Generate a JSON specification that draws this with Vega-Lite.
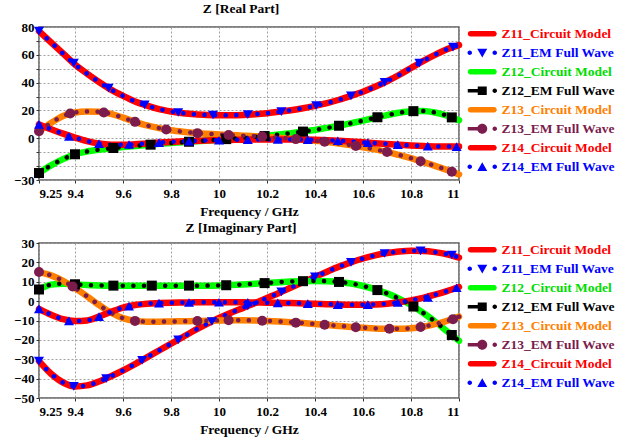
{
 "$schema": "https://vega.github.io/schema/vega-lite/v6.json",
 "background": "white",
 "padding": {"left": 12, "top": 0, "right": 4, "bottom": 2},
 "config": {
  "font": "Liberation Serif",
  "view": {"stroke": "#5a5a5a", "strokeWidth": 1.5},
  "axis": {"labelFont": "Liberation Serif", "labelFontWeight": "bold", "labelFontSize": 13, "labelColor": "#000", "titleFont": "Liberation Serif", "titleFontWeight": "bold", "titleFontSize": 13.5, "titleColor": "#000", "domain": false, "tickColor": "#333", "tickSize": 3, "gridColor": "#a0a0a0", "gridDash": [2, 2], "gridWidth": 1, "labelPadding": 2},
  "title": {"font": "Liberation Serif", "fontSize": 13.5, "fontWeight": "bold", "color": "#000", "offset": 3}
 },
 "datasets": {
  "re": [
   {"f":9.25,"Z11_Circuit Model":77,"Z11_EM Full Wave":77,"Z12_Circuit Model":-25,"Z12_EM Full Wave":-25,"Z13_Circuit Model":5,"Z13_EM Full Wave":5,"Z14_Circuit Model":10,"Z14_EM Full Wave":10},
   {"f":9.3,"Z11_Circuit Model":69,"Z11_EM Full Wave":69,"Z12_Circuit Model":-19.5,"Z12_EM Full Wave":-19.5,"Z13_Circuit Model":11,"Z13_EM Full Wave":11,"Z14_Circuit Model":6.5,"Z14_EM Full Wave":6.5},
   {"f":9.35,"Z11_Circuit Model":61,"Z11_EM Full Wave":61,"Z12_Circuit Model":-15,"Z12_EM Full Wave":-15,"Z13_Circuit Model":16,"Z13_EM Full Wave":16,"Z14_Circuit Model":3.3,"Z14_EM Full Wave":3.3},
   {"f":9.4,"Z11_Circuit Model":53,"Z11_EM Full Wave":53,"Z12_Circuit Model":-11.5,"Z12_EM Full Wave":-11.5,"Z13_Circuit Model":18.5,"Z13_EM Full Wave":18.5,"Z14_Circuit Model":0.5,"Z14_EM Full Wave":0.5},
   {"f":9.45,"Z11_Circuit Model":46.5,"Z11_EM Full Wave":46.5,"Z12_Circuit Model":-9.5,"Z12_EM Full Wave":-9.5,"Z13_Circuit Model":19.3,"Z13_EM Full Wave":19.3,"Z14_Circuit Model":-2,"Z14_EM Full Wave":-2},
   {"f":9.5,"Z11_Circuit Model":40.5,"Z11_EM Full Wave":40.5,"Z12_Circuit Model":-8.2,"Z12_EM Full Wave":-8.2,"Z13_Circuit Model":19,"Z13_EM Full Wave":19,"Z14_Circuit Model":-3.8,"Z14_EM Full Wave":-3.8},
   {"f":9.55,"Z11_Circuit Model":35,"Z11_EM Full Wave":35,"Z12_Circuit Model":-7.2,"Z12_EM Full Wave":-7.2,"Z13_Circuit Model":17.5,"Z13_EM Full Wave":17.5,"Z14_Circuit Model":-4.6,"Z14_EM Full Wave":-4.6},
   {"f":9.6,"Z11_Circuit Model":30.5,"Z11_EM Full Wave":30.5,"Z12_Circuit Model":-6.3,"Z12_EM Full Wave":-6.3,"Z13_Circuit Model":14.8,"Z13_EM Full Wave":14.8,"Z14_Circuit Model":-4.7,"Z14_EM Full Wave":-4.7},
   {"f":9.65,"Z11_Circuit Model":26.5,"Z11_EM Full Wave":26.5,"Z12_Circuit Model":-5.5,"Z12_EM Full Wave":-5.5,"Z13_Circuit Model":11.8,"Z13_EM Full Wave":11.8,"Z14_Circuit Model":-4.3,"Z14_EM Full Wave":-4.3},
   {"f":9.7,"Z11_Circuit Model":23.5,"Z11_EM Full Wave":23.5,"Z12_Circuit Model":-4.8,"Z12_EM Full Wave":-4.8,"Z13_Circuit Model":9.2,"Z13_EM Full Wave":9.2,"Z14_Circuit Model":-3.7,"Z14_EM Full Wave":-3.7},
   {"f":9.75,"Z11_Circuit Model":21,"Z11_EM Full Wave":21,"Z12_Circuit Model":-4,"Z12_EM Full Wave":-4,"Z13_Circuit Model":7.3,"Z13_EM Full Wave":7.3,"Z14_Circuit Model":-3.1,"Z14_EM Full Wave":-3.1},
   {"f":9.8,"Z11_Circuit Model":19.3,"Z11_EM Full Wave":19.3,"Z12_Circuit Model":-3.4,"Z12_EM Full Wave":-3.4,"Z13_Circuit Model":5.8,"Z13_EM Full Wave":5.8,"Z14_Circuit Model":-2.6,"Z14_EM Full Wave":-2.6},
   {"f":9.85,"Z11_Circuit Model":18,"Z11_EM Full Wave":18,"Z12_Circuit Model":-2.8,"Z12_EM Full Wave":-2.8,"Z13_Circuit Model":4.7,"Z13_EM Full Wave":4.7,"Z14_Circuit Model":-2.2,"Z14_EM Full Wave":-2.2},
   {"f":9.9,"Z11_Circuit Model":17.2,"Z11_EM Full Wave":17.2,"Z12_Circuit Model":-2.2,"Z12_EM Full Wave":-2.2,"Z13_Circuit Model":3.8,"Z13_EM Full Wave":3.8,"Z14_Circuit Model":-1.9,"Z14_EM Full Wave":-1.9},
   {"f":9.95,"Z11_Circuit Model":16.8,"Z11_EM Full Wave":16.8,"Z12_Circuit Model":-1.6,"Z12_EM Full Wave":-1.6,"Z13_Circuit Model":3.2,"Z13_EM Full Wave":3.2,"Z14_Circuit Model":-1.6,"Z14_EM Full Wave":-1.6},
   {"f":10,"Z11_Circuit Model":16.6,"Z11_EM Full Wave":16.6,"Z12_Circuit Model":-1,"Z12_EM Full Wave":-1,"Z13_Circuit Model":2.7,"Z13_EM Full Wave":2.7,"Z14_Circuit Model":-1.4,"Z14_EM Full Wave":-1.4},
   {"f":10.05,"Z11_Circuit Model":16.6,"Z11_EM Full Wave":16.6,"Z12_Circuit Model":-0.4,"Z12_EM Full Wave":-0.4,"Z13_Circuit Model":2.3,"Z13_EM Full Wave":2.3,"Z14_Circuit Model":-1.2,"Z14_EM Full Wave":-1.2},
   {"f":10.1,"Z11_Circuit Model":16.8,"Z11_EM Full Wave":16.8,"Z12_Circuit Model":0.3,"Z12_EM Full Wave":0.3,"Z13_Circuit Model":1.9,"Z13_EM Full Wave":1.9,"Z14_Circuit Model":-1,"Z14_EM Full Wave":-1},
   {"f":10.15,"Z11_Circuit Model":17.3,"Z11_EM Full Wave":17.3,"Z12_Circuit Model":1,"Z12_EM Full Wave":1,"Z13_Circuit Model":1.5,"Z13_EM Full Wave":1.5,"Z14_Circuit Model":-0.9,"Z14_EM Full Wave":-0.9},
   {"f":10.2,"Z11_Circuit Model":18,"Z11_EM Full Wave":18,"Z12_Circuit Model":1.8,"Z12_EM Full Wave":1.8,"Z13_Circuit Model":1,"Z13_EM Full Wave":1,"Z14_Circuit Model":-0.8,"Z14_EM Full Wave":-0.8},
   {"f":10.25,"Z11_Circuit Model":19,"Z11_EM Full Wave":19,"Z12_Circuit Model":2.7,"Z12_EM Full Wave":2.7,"Z13_Circuit Model":0.4,"Z13_EM Full Wave":0.4,"Z14_Circuit Model":-0.8,"Z14_EM Full Wave":-0.8},
   {"f":10.3,"Z11_Circuit Model":20.2,"Z11_EM Full Wave":20.2,"Z12_Circuit Model":3.7,"Z12_EM Full Wave":3.7,"Z13_Circuit Model":-0.3,"Z13_EM Full Wave":-0.3,"Z14_Circuit Model":-0.8,"Z14_EM Full Wave":-0.8},
   {"f":10.35,"Z11_Circuit Model":21.6,"Z11_EM Full Wave":21.6,"Z12_Circuit Model":4.8,"Z12_EM Full Wave":4.8,"Z13_Circuit Model":-1,"Z13_EM Full Wave":-1,"Z14_Circuit Model":-0.9,"Z14_EM Full Wave":-0.9},
   {"f":10.4,"Z11_Circuit Model":23.3,"Z11_EM Full Wave":23.3,"Z12_Circuit Model":6,"Z12_EM Full Wave":6,"Z13_Circuit Model":-1.8,"Z13_EM Full Wave":-1.8,"Z14_Circuit Model":-1.1,"Z14_EM Full Wave":-1.1},
   {"f":10.45,"Z11_Circuit Model":25.3,"Z11_EM Full Wave":25.3,"Z12_Circuit Model":7.5,"Z12_EM Full Wave":7.5,"Z13_Circuit Model":-2.7,"Z13_EM Full Wave":-2.7,"Z14_Circuit Model":-1.4,"Z14_EM Full Wave":-1.4},
   {"f":10.5,"Z11_Circuit Model":27.7,"Z11_EM Full Wave":27.7,"Z12_Circuit Model":9,"Z12_EM Full Wave":9,"Z13_Circuit Model":-3.8,"Z13_EM Full Wave":-3.8,"Z14_Circuit Model":-1.8,"Z14_EM Full Wave":-1.8},
   {"f":10.55,"Z11_Circuit Model":30.5,"Z11_EM Full Wave":30.5,"Z12_Circuit Model":10.8,"Z12_EM Full Wave":10.8,"Z13_Circuit Model":-5,"Z13_EM Full Wave":-5,"Z14_Circuit Model":-2.3,"Z14_EM Full Wave":-2.3},
   {"f":10.6,"Z11_Circuit Model":33.5,"Z11_EM Full Wave":33.5,"Z12_Circuit Model":12.7,"Z12_EM Full Wave":12.7,"Z13_Circuit Model":-6.4,"Z13_EM Full Wave":-6.4,"Z14_Circuit Model":-2.9,"Z14_EM Full Wave":-2.9},
   {"f":10.65,"Z11_Circuit Model":37,"Z11_EM Full Wave":37,"Z12_Circuit Model":14.7,"Z12_EM Full Wave":14.7,"Z13_Circuit Model":-8,"Z13_EM Full Wave":-8,"Z14_Circuit Model":-3.5,"Z14_EM Full Wave":-3.5},
   {"f":10.7,"Z11_Circuit Model":41,"Z11_EM Full Wave":41,"Z12_Circuit Model":16.6,"Z12_EM Full Wave":16.6,"Z13_Circuit Model":-9.8,"Z13_EM Full Wave":-9.8,"Z14_Circuit Model":-4.1,"Z14_EM Full Wave":-4.1},
   {"f":10.75,"Z11_Circuit Model":45.5,"Z11_EM Full Wave":45.5,"Z12_Circuit Model":18.3,"Z12_EM Full Wave":18.3,"Z13_Circuit Model":-12,"Z13_EM Full Wave":-12,"Z14_Circuit Model":-4.7,"Z14_EM Full Wave":-4.7},
   {"f":10.8,"Z11_Circuit Model":50.5,"Z11_EM Full Wave":50.5,"Z12_Circuit Model":19.4,"Z12_EM Full Wave":19.4,"Z13_Circuit Model":-14.3,"Z13_EM Full Wave":-14.3,"Z14_Circuit Model":-5.2,"Z14_EM Full Wave":-5.2},
   {"f":10.85,"Z11_Circuit Model":55.5,"Z11_EM Full Wave":55.5,"Z12_Circuit Model":19.6,"Z12_EM Full Wave":19.6,"Z13_Circuit Model":-17,"Z13_EM Full Wave":-17,"Z14_Circuit Model":-5.6,"Z14_EM Full Wave":-5.6},
   {"f":10.9,"Z11_Circuit Model":60,"Z11_EM Full Wave":60,"Z12_Circuit Model":18.5,"Z12_EM Full Wave":18.5,"Z13_Circuit Model":-19.8,"Z13_EM Full Wave":-19.8,"Z14_Circuit Model":-5.9,"Z14_EM Full Wave":-5.9},
   {"f":10.95,"Z11_Circuit Model":64,"Z11_EM Full Wave":64,"Z12_Circuit Model":16.3,"Z12_EM Full Wave":16.3,"Z13_Circuit Model":-22.8,"Z13_EM Full Wave":-22.8,"Z14_Circuit Model":-6,"Z14_EM Full Wave":-6},
   {"f":11,"Z11_Circuit Model":67,"Z11_EM Full Wave":67,"Z12_Circuit Model":13,"Z12_EM Full Wave":13,"Z13_Circuit Model":-26,"Z13_EM Full Wave":-26,"Z14_Circuit Model":-6,"Z14_EM Full Wave":-6}
  ],
  "im": [
   {"f":9.25,"Z11_Circuit Model":-31,"Z11_EM Full Wave":-31,"Z12_Circuit Model":6,"Z12_EM Full Wave":6,"Z13_Circuit Model":15,"Z13_EM Full Wave":15,"Z14_Circuit Model":-4,"Z14_EM Full Wave":-4},
   {"f":9.3,"Z11_Circuit Model":-37.5,"Z11_EM Full Wave":-37.5,"Z12_Circuit Model":8.5,"Z12_EM Full Wave":8.5,"Z13_Circuit Model":13.3,"Z13_EM Full Wave":13.3,"Z14_Circuit Model":-7,"Z14_EM Full Wave":-7},
   {"f":9.35,"Z11_Circuit Model":-42,"Z11_EM Full Wave":-42,"Z12_Circuit Model":9,"Z12_EM Full Wave":9,"Z13_Circuit Model":10.5,"Z13_EM Full Wave":10.5,"Z14_Circuit Model":-9.3,"Z14_EM Full Wave":-9.3},
   {"f":9.4,"Z11_Circuit Model":-44,"Z11_EM Full Wave":-44,"Z12_Circuit Model":8.7,"Z12_EM Full Wave":8.7,"Z13_Circuit Model":6.8,"Z13_EM Full Wave":6.8,"Z14_Circuit Model":-10.3,"Z14_EM Full Wave":-10.3},
   {"f":9.45,"Z11_Circuit Model":-43.5,"Z11_EM Full Wave":-43.5,"Z12_Circuit Model":8.3,"Z12_EM Full Wave":8.3,"Z13_Circuit Model":2.5,"Z13_EM Full Wave":2.5,"Z14_Circuit Model":-10,"Z14_EM Full Wave":-10},
   {"f":9.5,"Z11_Circuit Model":-41.5,"Z11_EM Full Wave":-41.5,"Z12_Circuit Model":8.1,"Z12_EM Full Wave":8.1,"Z13_Circuit Model":-2,"Z13_EM Full Wave":-2,"Z14_Circuit Model":-8,"Z14_EM Full Wave":-8},
   {"f":9.55,"Z11_Circuit Model":-38.8,"Z11_EM Full Wave":-38.8,"Z12_Circuit Model":8,"Z12_EM Full Wave":8,"Z13_Circuit Model":-6,"Z13_EM Full Wave":-6,"Z14_Circuit Model":-5.5,"Z14_EM Full Wave":-5.5},
   {"f":9.6,"Z11_Circuit Model":-35.8,"Z11_EM Full Wave":-35.8,"Z12_Circuit Model":8,"Z12_EM Full Wave":8,"Z13_Circuit Model":-8.8,"Z13_EM Full Wave":-8.8,"Z14_Circuit Model":-3.3,"Z14_EM Full Wave":-3.3},
   {"f":9.65,"Z11_Circuit Model":-32.5,"Z11_EM Full Wave":-32.5,"Z12_Circuit Model":8,"Z12_EM Full Wave":8,"Z13_Circuit Model":-10.2,"Z13_EM Full Wave":-10.2,"Z14_Circuit Model":-2,"Z14_EM Full Wave":-2},
   {"f":9.7,"Z11_Circuit Model":-29,"Z11_EM Full Wave":-29,"Z12_Circuit Model":8,"Z12_EM Full Wave":8,"Z13_Circuit Model":-10.6,"Z13_EM Full Wave":-10.6,"Z14_Circuit Model":-1.3,"Z14_EM Full Wave":-1.3},
   {"f":9.75,"Z11_Circuit Model":-25.5,"Z11_EM Full Wave":-25.5,"Z12_Circuit Model":8,"Z12_EM Full Wave":8,"Z13_Circuit Model":-10.6,"Z13_EM Full Wave":-10.6,"Z14_Circuit Model":-1,"Z14_EM Full Wave":-1},
   {"f":9.8,"Z11_Circuit Model":-22,"Z11_EM Full Wave":-22,"Z12_Circuit Model":8,"Z12_EM Full Wave":8,"Z13_Circuit Model":-10.5,"Z13_EM Full Wave":-10.5,"Z14_Circuit Model":-0.8,"Z14_EM Full Wave":-0.8},
   {"f":9.85,"Z11_Circuit Model":-18.5,"Z11_EM Full Wave":-18.5,"Z12_Circuit Model":8,"Z12_EM Full Wave":8,"Z13_Circuit Model":-10.4,"Z13_EM Full Wave":-10.4,"Z14_Circuit Model":-0.7,"Z14_EM Full Wave":-0.7},
   {"f":9.9,"Z11_Circuit Model":-15,"Z11_EM Full Wave":-15,"Z12_Circuit Model":8,"Z12_EM Full Wave":8,"Z13_Circuit Model":-10.3,"Z13_EM Full Wave":-10.3,"Z14_Circuit Model":-0.6,"Z14_EM Full Wave":-0.6},
   {"f":9.95,"Z11_Circuit Model":-11.7,"Z11_EM Full Wave":-11.7,"Z12_Circuit Model":8,"Z12_EM Full Wave":8,"Z13_Circuit Model":-10.1,"Z13_EM Full Wave":-10.1,"Z14_Circuit Model":-0.6,"Z14_EM Full Wave":-0.6},
   {"f":10,"Z11_Circuit Model":-8.7,"Z11_EM Full Wave":-8.7,"Z12_Circuit Model":8.1,"Z12_EM Full Wave":8.1,"Z13_Circuit Model":-10,"Z13_EM Full Wave":-10,"Z14_Circuit Model":-0.6,"Z14_EM Full Wave":-0.6},
   {"f":10.05,"Z11_Circuit Model":-6,"Z11_EM Full Wave":-6,"Z12_Circuit Model":8.3,"Z12_EM Full Wave":8.3,"Z13_Circuit Model":-9.9,"Z13_EM Full Wave":-9.9,"Z14_Circuit Model":-0.6,"Z14_EM Full Wave":-0.6},
   {"f":10.1,"Z11_Circuit Model":-3.5,"Z11_EM Full Wave":-3.5,"Z12_Circuit Model":8.6,"Z12_EM Full Wave":8.6,"Z13_Circuit Model":-9.9,"Z13_EM Full Wave":-9.9,"Z14_Circuit Model":-0.6,"Z14_EM Full Wave":-0.6},
   {"f":10.15,"Z11_Circuit Model":-1,"Z11_EM Full Wave":-1,"Z12_Circuit Model":9,"Z12_EM Full Wave":9,"Z13_Circuit Model":-10,"Z13_EM Full Wave":-10,"Z14_Circuit Model":-0.7,"Z14_EM Full Wave":-0.7},
   {"f":10.2,"Z11_Circuit Model":1.6,"Z11_EM Full Wave":1.6,"Z12_Circuit Model":9.4,"Z12_EM Full Wave":9.4,"Z13_Circuit Model":-10.2,"Z13_EM Full Wave":-10.2,"Z14_Circuit Model":-0.8,"Z14_EM Full Wave":-0.8},
   {"f":10.25,"Z11_Circuit Model":4.2,"Z11_EM Full Wave":4.2,"Z12_Circuit Model":9.8,"Z12_EM Full Wave":9.8,"Z13_Circuit Model":-10.5,"Z13_EM Full Wave":-10.5,"Z14_Circuit Model":-0.9,"Z14_EM Full Wave":-0.9},
   {"f":10.3,"Z11_Circuit Model":7,"Z11_EM Full Wave":7,"Z12_Circuit Model":10.1,"Z12_EM Full Wave":10.1,"Z13_Circuit Model":-10.9,"Z13_EM Full Wave":-10.9,"Z14_Circuit Model":-1,"Z14_EM Full Wave":-1},
   {"f":10.35,"Z11_Circuit Model":9.8,"Z11_EM Full Wave":9.8,"Z12_Circuit Model":10.3,"Z12_EM Full Wave":10.3,"Z13_Circuit Model":-11.3,"Z13_EM Full Wave":-11.3,"Z14_Circuit Model":-1.2,"Z14_EM Full Wave":-1.2},
   {"f":10.4,"Z11_Circuit Model":12.5,"Z11_EM Full Wave":12.5,"Z12_Circuit Model":10.4,"Z12_EM Full Wave":10.4,"Z13_Circuit Model":-11.8,"Z13_EM Full Wave":-11.8,"Z14_Circuit Model":-1.4,"Z14_EM Full Wave":-1.4},
   {"f":10.45,"Z11_Circuit Model":15.2,"Z11_EM Full Wave":15.2,"Z12_Circuit Model":10.3,"Z12_EM Full Wave":10.3,"Z13_Circuit Model":-12.3,"Z13_EM Full Wave":-12.3,"Z14_Circuit Model":-1.6,"Z14_EM Full Wave":-1.6},
   {"f":10.5,"Z11_Circuit Model":17.8,"Z11_EM Full Wave":17.8,"Z12_Circuit Model":9.9,"Z12_EM Full Wave":9.9,"Z13_Circuit Model":-12.8,"Z13_EM Full Wave":-12.8,"Z14_Circuit Model":-1.8,"Z14_EM Full Wave":-1.8},
   {"f":10.55,"Z11_Circuit Model":20,"Z11_EM Full Wave":20,"Z12_Circuit Model":9.1,"Z12_EM Full Wave":9.1,"Z13_Circuit Model":-13.3,"Z13_EM Full Wave":-13.3,"Z14_Circuit Model":-1.9,"Z14_EM Full Wave":-1.9},
   {"f":10.6,"Z11_Circuit Model":22,"Z11_EM Full Wave":22,"Z12_Circuit Model":7.8,"Z12_EM Full Wave":7.8,"Z13_Circuit Model":-13.7,"Z13_EM Full Wave":-13.7,"Z14_Circuit Model":-1.9,"Z14_EM Full Wave":-1.9},
   {"f":10.65,"Z11_Circuit Model":23.6,"Z11_EM Full Wave":23.6,"Z12_Circuit Model":6.1,"Z12_EM Full Wave":6.1,"Z13_Circuit Model":-14.1,"Z13_EM Full Wave":-14.1,"Z14_Circuit Model":-1.7,"Z14_EM Full Wave":-1.7},
   {"f":10.7,"Z11_Circuit Model":24.8,"Z11_EM Full Wave":24.8,"Z12_Circuit Model":4,"Z12_EM Full Wave":4,"Z13_Circuit Model":-14.3,"Z13_EM Full Wave":-14.3,"Z14_Circuit Model":-1.3,"Z14_EM Full Wave":-1.3},
   {"f":10.75,"Z11_Circuit Model":25.6,"Z11_EM Full Wave":25.6,"Z12_Circuit Model":1.3,"Z12_EM Full Wave":1.3,"Z13_Circuit Model":-14.3,"Z13_EM Full Wave":-14.3,"Z14_Circuit Model":-0.6,"Z14_EM Full Wave":-0.6},
   {"f":10.8,"Z11_Circuit Model":26,"Z11_EM Full Wave":26,"Z12_Circuit Model":-2,"Z12_EM Full Wave":-2,"Z13_Circuit Model":-14,"Z13_EM Full Wave":-14,"Z14_Circuit Model":0.4,"Z14_EM Full Wave":0.4},
   {"f":10.85,"Z11_Circuit Model":25.9,"Z11_EM Full Wave":25.9,"Z12_Circuit Model":-6,"Z12_EM Full Wave":-6,"Z13_Circuit Model":-13.2,"Z13_EM Full Wave":-13.2,"Z14_Circuit Model":1.7,"Z14_EM Full Wave":1.7},
   {"f":10.9,"Z11_Circuit Model":25.3,"Z11_EM Full Wave":25.3,"Z12_Circuit Model":-10.5,"Z12_EM Full Wave":-10.5,"Z13_Circuit Model":-11.9,"Z13_EM Full Wave":-11.9,"Z14_Circuit Model":3.3,"Z14_EM Full Wave":3.3},
   {"f":10.95,"Z11_Circuit Model":24.2,"Z11_EM Full Wave":24.2,"Z12_Circuit Model":-15.5,"Z12_EM Full Wave":-15.5,"Z13_Circuit Model":-10.2,"Z13_EM Full Wave":-10.2,"Z14_Circuit Model":5.2,"Z14_EM Full Wave":5.2},
   {"f":11,"Z11_Circuit Model":22.5,"Z11_EM Full Wave":22.5,"Z12_Circuit Model":-20.5,"Z12_EM Full Wave":-20.5,"Z13_Circuit Model":-8,"Z13_EM Full Wave":-8,"Z14_Circuit Model":7.3,"Z14_EM Full Wave":7.3}
  ],
  "reM": [
   {"s":"Z11_EM Full Wave","f":9.25,"v":77},{"s":"Z11_EM Full Wave","f":9.395,"v":54},{"s":"Z11_EM Full Wave","f":9.54,"v":36},{"s":"Z11_EM Full Wave","f":9.69,"v":24},{"s":"Z11_EM Full Wave","f":9.83,"v":18.5},{"s":"Z11_EM Full Wave","f":9.975,"v":16.7},{"s":"Z11_EM Full Wave","f":10.12,"v":17},{"s":"Z11_EM Full Wave","f":10.26,"v":19.2},{"s":"Z11_EM Full Wave","f":10.405,"v":23.5},{"s":"Z11_EM Full Wave","f":10.55,"v":30.5},{"s":"Z11_EM Full Wave","f":10.69,"v":40.2},{"s":"Z11_EM Full Wave","f":10.835,"v":54},{"s":"Z11_EM Full Wave","f":10.975,"v":65.5},
   {"s":"Z12_EM Full Wave","f":9.25,"v":-25},{"s":"Z12_EM Full Wave","f":9.4,"v":-11.5},{"s":"Z12_EM Full Wave","f":9.56,"v":-7},{"s":"Z12_EM Full Wave","f":9.715,"v":-4.6},{"s":"Z12_EM Full Wave","f":9.875,"v":-2.5},{"s":"Z12_EM Full Wave","f":10.03,"v":-0.6},{"s":"Z12_EM Full Wave","f":10.19,"v":1.6},{"s":"Z12_EM Full Wave","f":10.35,"v":4.8},{"s":"Z12_EM Full Wave","f":10.5,"v":9},{"s":"Z12_EM Full Wave","f":10.66,"v":15.1},{"s":"Z12_EM Full Wave","f":10.81,"v":19.5},{"s":"Z12_EM Full Wave","f":10.97,"v":15},
   {"s":"Z13_EM Full Wave","f":9.25,"v":5},{"s":"Z13_EM Full Wave","f":9.38,"v":17.8},{"s":"Z13_EM Full Wave","f":9.52,"v":18.5},{"s":"Z13_EM Full Wave","f":9.65,"v":11.8},{"s":"Z13_EM Full Wave","f":9.78,"v":6.3},{"s":"Z13_EM Full Wave","f":9.91,"v":3.7},{"s":"Z13_EM Full Wave","f":10.04,"v":2.4},{"s":"Z13_EM Full Wave","f":10.18,"v":1.2},{"s":"Z13_EM Full Wave","f":10.32,"v":-0.6},{"s":"Z13_EM Full Wave","f":10.44,"v":-2.5},{"s":"Z13_EM Full Wave","f":10.57,"v":-5.5},{"s":"Z13_EM Full Wave","f":10.7,"v":-9.8},{"s":"Z13_EM Full Wave","f":10.84,"v":-16.5},{"s":"Z13_EM Full Wave","f":10.97,"v":-24},
   {"s":"Z14_EM Full Wave","f":9.25,"v":10},{"s":"Z14_EM Full Wave","f":9.375,"v":1.3},{"s":"Z14_EM Full Wave","f":9.5,"v":-3.8},{"s":"Z14_EM Full Wave","f":9.625,"v":-4.5},{"s":"Z14_EM Full Wave","f":9.75,"v":-3.1},{"s":"Z14_EM Full Wave","f":9.875,"v":-2},{"s":"Z14_EM Full Wave","f":10,"v":-1.4},{"s":"Z14_EM Full Wave","f":10.12,"v":-1},{"s":"Z14_EM Full Wave","f":10.245,"v":-0.8},{"s":"Z14_EM Full Wave","f":10.37,"v":-1},{"s":"Z14_EM Full Wave","f":10.495,"v":-1.8},{"s":"Z14_EM Full Wave","f":10.62,"v":-3.1},{"s":"Z14_EM Full Wave","f":10.745,"v":-4.6},{"s":"Z14_EM Full Wave","f":10.87,"v":-5.7},{"s":"Z14_EM Full Wave","f":10.99,"v":-6}
  ],
  "imM": [
   {"s":"Z11_EM Full Wave","f":9.25,"v":-31},{"s":"Z11_EM Full Wave","f":9.395,"v":-44},{"s":"Z11_EM Full Wave","f":9.53,"v":-40},{"s":"Z11_EM Full Wave","f":9.68,"v":-30.5},{"s":"Z11_EM Full Wave","f":9.83,"v":-20},{"s":"Z11_EM Full Wave","f":9.97,"v":-10.5},{"s":"Z11_EM Full Wave","f":10.12,"v":-2.5},{"s":"Z11_EM Full Wave","f":10.26,"v":4.8},{"s":"Z11_EM Full Wave","f":10.4,"v":12.5},{"s":"Z11_EM Full Wave","f":10.55,"v":20},{"s":"Z11_EM Full Wave","f":10.69,"v":24.6},{"s":"Z11_EM Full Wave","f":10.84,"v":25.9},{"s":"Z11_EM Full Wave","f":10.97,"v":23.8},
   {"s":"Z12_EM Full Wave","f":9.25,"v":6},{"s":"Z12_EM Full Wave","f":9.4,"v":8.7},{"s":"Z12_EM Full Wave","f":9.56,"v":8},{"s":"Z12_EM Full Wave","f":9.72,"v":8},{"s":"Z12_EM Full Wave","f":9.875,"v":8},{"s":"Z12_EM Full Wave","f":10.03,"v":8.2},{"s":"Z12_EM Full Wave","f":10.19,"v":9.3},{"s":"Z12_EM Full Wave","f":10.35,"v":10.3},{"s":"Z12_EM Full Wave","f":10.5,"v":9.9},{"s":"Z12_EM Full Wave","f":10.66,"v":5.7},{"s":"Z12_EM Full Wave","f":10.81,"v":-2.8},{"s":"Z12_EM Full Wave","f":10.97,"v":-17.5},
   {"s":"Z13_EM Full Wave","f":9.25,"v":15},{"s":"Z13_EM Full Wave","f":9.39,"v":7.6},{"s":"Z13_EM Full Wave","f":9.65,"v":-10.2},{"s":"Z13_EM Full Wave","f":9.91,"v":-10.3},{"s":"Z13_EM Full Wave","f":10.04,"v":-9.9},{"s":"Z13_EM Full Wave","f":10.18,"v":-10.1},{"s":"Z13_EM Full Wave","f":10.32,"v":-11.1},{"s":"Z13_EM Full Wave","f":10.44,"v":-12.2},{"s":"Z13_EM Full Wave","f":10.57,"v":-13.5},{"s":"Z13_EM Full Wave","f":10.71,"v":-14.3},{"s":"Z13_EM Full Wave","f":10.84,"v":-13.4},{"s":"Z13_EM Full Wave","f":10.975,"v":-9.3},
   {"s":"Z14_EM Full Wave","f":9.25,"v":-4},{"s":"Z14_EM Full Wave","f":9.375,"v":-10.2},{"s":"Z14_EM Full Wave","f":9.5,"v":-8},{"s":"Z14_EM Full Wave","f":9.625,"v":-2.6},{"s":"Z14_EM Full Wave","f":9.75,"v":-1},{"s":"Z14_EM Full Wave","f":9.875,"v":-0.7},{"s":"Z14_EM Full Wave","f":10,"v":-0.6},{"s":"Z14_EM Full Wave","f":10.12,"v":-0.6},{"s":"Z14_EM Full Wave","f":10.245,"v":-0.9},{"s":"Z14_EM Full Wave","f":10.37,"v":-1.3},{"s":"Z14_EM Full Wave","f":10.495,"v":-1.8},{"s":"Z14_EM Full Wave","f":10.62,"v":-1.8},{"s":"Z14_EM Full Wave","f":10.745,"v":-0.7},{"s":"Z14_EM Full Wave","f":10.87,"v":1.9},{"s":"Z14_EM Full Wave","f":10.99,"v":6.9}
  ]
 },
 "spacing": 0,
 "resolve": {"scale": {"color": "independent", "shape": "independent"}, "legend": {"color": "independent", "shape": "independent"}},
 "vconcat": [
  {
   "title": {"text": "Z [Real Part]", "dx": -8},
   "width": 420,
   "height": 153,
   "encoding": {
    "x": {"field": "f", "type": "quantitative", "scale": {"domain": [9.25, 11], "nice": false, "zero": false}, "axis": {"title": "Frequency / GHz", "values": [9.25, 9.4, 9.6, 9.8, 10, 10.2, 10.4, 10.6, 10.8, 11], "labelExpr": "'' + datum.value", "labelOverlap": false, "labelPadding": 4, "titlePadding": 4}},
    "y": {"field": "v", "type": "quantitative", "scale": {"domain": [-30, 80], "nice": false, "zero": false}, "axis": {"title": null, "values": [-30, -20, -10, 0, 10, 20, 30, 40, 50, 60, 70, 80], "labelExpr": "(datum.value == -30 || datum.value == 0 || datum.value == 20 || datum.value == 40 || datum.value == 60 || datum.value == 80) ? datum.label : ''"}}
   },
   "layer": [
    {
     "data": {"name": "re"},
     "transform": [{"fold": ["Z11_Circuit Model", "Z12_Circuit Model", "Z13_Circuit Model", "Z14_Circuit Model"], "as": ["s", "v"]}],
     "mark": {"type": "line", "strokeWidth": 6.5, "interpolate": "monotone", "strokeCap": "round"},
     "encoding": {
      "color": {"field": "s", "type": "nominal", "scale": {"domain": ["Z11_Circuit Model", "Z11_EM Full Wave", "Z12_Circuit Model", "Z12_EM Full Wave", "Z13_Circuit Model", "Z13_EM Full Wave", "Z14_Circuit Model", "Z14_EM Full Wave"], "range": ["#ff0000", "#0000ff", "#00ff00", "#000000", "#ff8000", "#7b1c4c", "#ff0000", "#0000ff"]},
       "legend": {"title": null, "orient": "right", "offset": -5, "padding": 0, "rowPadding": 4, "labelFont": "Liberation Serif", "labelFontWeight": "bold", "labelFontSize": 13.5, "labelOffset": 21, "labelLimit": 0, "symbolSize": 100, "symbolStrokeWidth": 0,
        "symbolType": {"expr": "datum.value=='Z11_EM Full Wave'?'M-1.25,0A0.45,0.45 0 1 1 -0.35,0A0.45,0.45 0 1 1 -1.25,0ZM0.7,-0.8L2.7,-0.8L1.7,0.95ZM3.75,0A0.45,0.45 0 1 1 4.65,0A0.45,0.45 0 1 1 3.75,0Z':datum.value=='Z12_EM Full Wave'?'M-1.2,-0.35H0.9V0.35H-1.2ZM0.8,-0.85H2.6V0.85H0.8ZM3.75,0A0.45,0.45 0 1 1 4.65,0A0.45,0.45 0 1 1 3.75,0Z':datum.value=='Z13_EM Full Wave'?'M-1.2,-0.35H0.8V0.35H-1.2ZM0.7,0A1,1 0 1 1 2.7,0A1,1 0 1 1 0.7,0ZM3.75,0A0.45,0.45 0 1 1 4.65,0A0.45,0.45 0 1 1 3.75,0Z':datum.value=='Z14_EM Full Wave'?'M-1.25,0A0.45,0.45 0 1 1 -0.35,0A0.45,0.45 0 1 1 -1.25,0ZM0.7,0.85L2.7,0.85L1.7,-0.9ZM3.75,0A0.45,0.45 0 1 1 4.65,0A0.45,0.45 0 1 1 3.75,0Z':'M-0.65,-0.55H4.05A0.55,0.55 0 0 1 4.05,0.55H-0.65A0.55,0.55 0 0 1 -0.65,-0.55Z'"},
        "symbolFillColor": {"expr": "datum.value=='Z12_Circuit Model'?'#00ee00':datum.value=='Z12_EM Full Wave'?'#000000':datum.value=='Z13_Circuit Model'?'#ff8000':datum.value=='Z13_EM Full Wave'?'#7b1c4c':indexof(datum.value,'EM')>=0?'#0000ff':'#ff0000'"},
        "symbolStrokeColor": {"expr": "datum.value=='Z12_Circuit Model'?'#00ee00':datum.value=='Z12_EM Full Wave'?'#000000':datum.value=='Z13_Circuit Model'?'#ff8000':datum.value=='Z13_EM Full Wave'?'#7b1c4c':indexof(datum.value,'EM')>=0?'#0000ff':'#ff0000'"},
        "labelColor": {"expr": "datum.value=='Z12_Circuit Model'?'#00dd00':datum.value=='Z12_EM Full Wave'?'#000000':datum.value=='Z13_Circuit Model'?'#ff8000':datum.value=='Z13_EM Full Wave'?'#7b1c4c':indexof(datum.value,'EM')>=0?'#0000ff':'#ff0000'"}
       }}
     }
    },
    {
     "data": {"name": "re"},
     "transform": [{"fold": ["Z11_EM Full Wave", "Z12_EM Full Wave", "Z13_EM Full Wave", "Z14_EM Full Wave"], "as": ["s", "v"]}],
     "mark": {"type": "line", "strokeWidth": 4.5, "interpolate": "monotone", "strokeCap": "round", "strokeDash": [0.1, 10.5]},
     "encoding": {"color": {"field": "s", "type": "nominal"}}
    },
    {
     "data": {"name": "reM"},
     "mark": {"type": "point", "filled": true, "size": 100, "opacity": 1},
     "encoding": {
      "color": {"field": "s", "type": "nominal"},
      "shape": {"field": "s", "type": "nominal", "scale": {"domain": ["Z11_EM Full Wave", "Z12_EM Full Wave", "Z13_EM Full Wave", "Z14_EM Full Wave"], "range": ["triangle-down", "square", "circle", "triangle-up"]}, "legend": null}
     }
    }
   ]
  },
  {
   "title": {"text": "Z [Imaginary Part]", "dx": -8},
   "width": 420,
   "height": 155,
   "encoding": {
    "x": {"field": "f", "type": "quantitative", "scale": {"domain": [9.25, 11], "nice": false, "zero": false}, "axis": {"title": "Frequency / GHz", "values": [9.25, 9.4, 9.6, 9.8, 10, 10.2, 10.4, 10.6, 10.8, 11], "labelExpr": "'' + datum.value", "labelOverlap": false, "labelPadding": 4, "titlePadding": 4}},
    "y": {"field": "v", "type": "quantitative", "scale": {"domain": [-50, 30], "nice": false, "zero": false}, "axis": {"title": null, "values": [-50, -40, -30, -20, -10, 0, 10, 20, 30]}}
   },
   "layer": [
    {
     "data": {"name": "im"},
     "transform": [{"fold": ["Z11_Circuit Model", "Z12_Circuit Model", "Z13_Circuit Model", "Z14_Circuit Model"], "as": ["s", "v"]}],
     "mark": {"type": "line", "strokeWidth": 6.5, "interpolate": "monotone", "strokeCap": "round"},
     "encoding": {
      "color": {"field": "s", "type": "nominal", "scale": {"domain": ["Z11_Circuit Model", "Z11_EM Full Wave", "Z12_Circuit Model", "Z12_EM Full Wave", "Z13_Circuit Model", "Z13_EM Full Wave", "Z14_Circuit Model", "Z14_EM Full Wave"], "range": ["#ff0000", "#0000ff", "#00ff00", "#000000", "#ff8000", "#7b1c4c", "#ff0000", "#0000ff"]},
       "legend": {"title": null, "orient": "right", "offset": -5, "padding": 0, "rowPadding": 4, "labelFont": "Liberation Serif", "labelFontWeight": "bold", "labelFontSize": 13.5, "labelOffset": 21, "labelLimit": 0, "symbolSize": 100, "symbolStrokeWidth": 0,
        "symbolType": {"expr": "datum.value=='Z11_EM Full Wave'?'M-1.25,0A0.45,0.45 0 1 1 -0.35,0A0.45,0.45 0 1 1 -1.25,0ZM0.7,-0.8L2.7,-0.8L1.7,0.95ZM3.75,0A0.45,0.45 0 1 1 4.65,0A0.45,0.45 0 1 1 3.75,0Z':datum.value=='Z12_EM Full Wave'?'M-1.2,-0.35H0.9V0.35H-1.2ZM0.8,-0.85H2.6V0.85H0.8ZM3.75,0A0.45,0.45 0 1 1 4.65,0A0.45,0.45 0 1 1 3.75,0Z':datum.value=='Z13_EM Full Wave'?'M-1.2,-0.35H0.8V0.35H-1.2ZM0.7,0A1,1 0 1 1 2.7,0A1,1 0 1 1 0.7,0ZM3.75,0A0.45,0.45 0 1 1 4.65,0A0.45,0.45 0 1 1 3.75,0Z':datum.value=='Z14_EM Full Wave'?'M-1.25,0A0.45,0.45 0 1 1 -0.35,0A0.45,0.45 0 1 1 -1.25,0ZM0.7,0.85L2.7,0.85L1.7,-0.9ZM3.75,0A0.45,0.45 0 1 1 4.65,0A0.45,0.45 0 1 1 3.75,0Z':'M-0.65,-0.55H4.05A0.55,0.55 0 0 1 4.05,0.55H-0.65A0.55,0.55 0 0 1 -0.65,-0.55Z'"},
        "symbolFillColor": {"expr": "datum.value=='Z12_Circuit Model'?'#00ee00':datum.value=='Z12_EM Full Wave'?'#000000':datum.value=='Z13_Circuit Model'?'#ff8000':datum.value=='Z13_EM Full Wave'?'#7b1c4c':indexof(datum.value,'EM')>=0?'#0000ff':'#ff0000'"},
        "symbolStrokeColor": {"expr": "datum.value=='Z12_Circuit Model'?'#00ee00':datum.value=='Z12_EM Full Wave'?'#000000':datum.value=='Z13_Circuit Model'?'#ff8000':datum.value=='Z13_EM Full Wave'?'#7b1c4c':indexof(datum.value,'EM')>=0?'#0000ff':'#ff0000'"},
        "labelColor": {"expr": "datum.value=='Z12_Circuit Model'?'#00dd00':datum.value=='Z12_EM Full Wave'?'#000000':datum.value=='Z13_Circuit Model'?'#ff8000':datum.value=='Z13_EM Full Wave'?'#7b1c4c':indexof(datum.value,'EM')>=0?'#0000ff':'#ff0000'"}
       }}
     }
    },
    {
     "data": {"name": "im"},
     "transform": [{"fold": ["Z11_EM Full Wave", "Z12_EM Full Wave", "Z13_EM Full Wave", "Z14_EM Full Wave"], "as": ["s", "v"]}],
     "mark": {"type": "line", "strokeWidth": 4.5, "interpolate": "monotone", "strokeCap": "round", "strokeDash": [0.1, 10.5]},
     "encoding": {"color": {"field": "s", "type": "nominal"}}
    },
    {
     "data": {"name": "imM"},
     "mark": {"type": "point", "filled": true, "size": 100, "opacity": 1},
     "encoding": {
      "color": {"field": "s", "type": "nominal"},
      "shape": {"field": "s", "type": "nominal", "scale": {"domain": ["Z11_EM Full Wave", "Z12_EM Full Wave", "Z13_EM Full Wave", "Z14_EM Full Wave"], "range": ["triangle-down", "square", "circle", "triangle-up"]}, "legend": null}
     }
    }
   ]
  }
 ]
}
